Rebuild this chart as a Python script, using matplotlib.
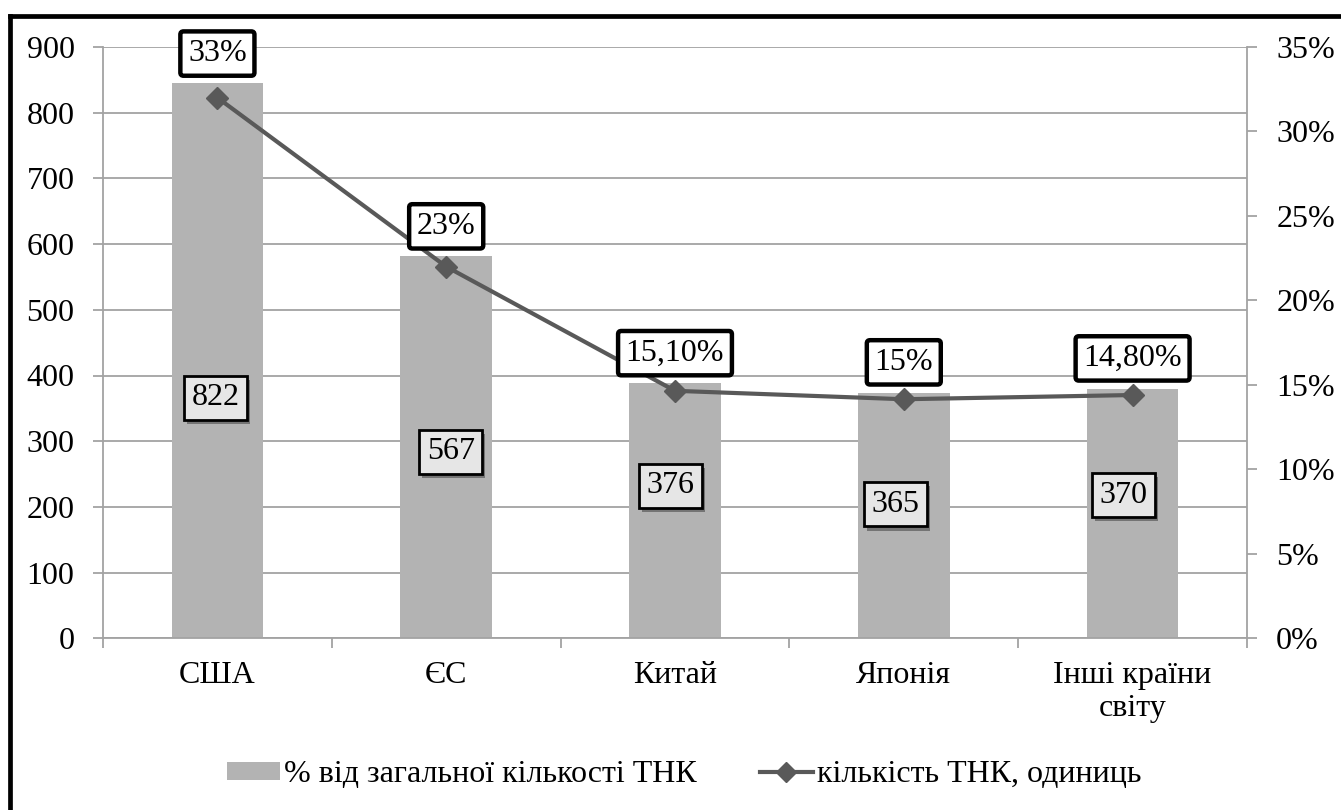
import matplotlib
matplotlib.use('Agg')
import matplotlib.pyplot as plt
import numpy as np
from matplotlib.lines import Line2D
from matplotlib.patches import Patch
import matplotlib.patheffects as pe
from matplotlib.font_manager import FontProperties

# ---- data ----
categories = ['США', 'ЄС', 'Китай', 'Японія', 'Інші країни\nсвіту']
bar_values = [845, 582, 389, 374, 380]          # bar heights on left axis
count_labels = ['822', '567', '376', '365', '370']
line_values = [32.0, 22.0, 14.65, 14.15, 14.4]  # line on right axis, %
pct_labels = ['33%', '23%', '15,10%', '15%', '14,80%']
left_ticks = [0, 100, 200, 300, 400, 500, 600, 700, 800, 900]
right_ticks = [0, 5, 10, 15, 20, 25, 30, 35]
right_tick_labels = ['0%', '5%', '10%', '15%', '20%', '25%', '30%', '35%']
legend_labels = ['% від загальної кількості ТНК', 'кількість ТНК, одиниць']

# label placement (left-axis units / category offsets)
pct_label_y = [890, 627, 434, 420, 426]
count_label_y = [366, 284, 232, 204, 218]
count_label_dx = [-0.008, 0.02, -0.02, -0.036, -0.04]

FAM = 'Liberation Serif'
plt.rcParams['font.family'] = 'serif'
plt.rcParams['font.serif'] = [FAM, 'DejaVu Serif']
FS = 23
GRID = '#a3a3a3'
BAR = '#b3b3b3'
LINE = '#595959'
W, H = 1341, 810

fig = plt.figure(figsize=(W / 100, H / 100), dpi=100)
ax = fig.add_axes([103 / W, 1 - 638.3 / H, (1247 - 103) / W, 591.3 / H])
x = np.arange(len(categories))

ax.bar(x, bar_values, width=0.4, color=BAR, zorder=2)
ax.set_xlim(-0.5, len(categories) - 0.5)
ax.set_ylim(0, 900)
ax.set_yticks(left_ticks)
ax.set_yticklabels([str(t) for t in left_ticks], fontsize=FS, fontfamily=FAM)
ax.grid(axis='y', color=GRID, lw=1.3, zorder=0)
ax.set_axisbelow(True)
ax.set_xticks(x)
ax.set_xticklabels(categories, fontsize=FS, fontfamily=FAM, linespacing=1.2)
ax.set_xticks(np.arange(-0.5, len(categories)), minor=True)
ax.tick_params(axis='x', which='major', length=0, pad=16)
ax.tick_params(axis='x', which='minor', length=7.5, color=GRID, width=1.3, direction='out')
ax.tick_params(axis='y', length=7.5, color=GRID, width=1.3, pad=13)
for s in ['top', 'right']:
    ax.spines[s].set_visible(False)
for s in ['left', 'bottom']:
    ax.spines[s].set_color(GRID)
    ax.spines[s].set_linewidth(1.3)

ax2 = ax.twinx()
ax2.plot(x, line_values, color=LINE, lw=3, marker='D', ms=11.5, zorder=3)
ax2.set_ylim(0, 35)
ax2.set_yticks(right_ticks)
ax2.set_yticklabels(right_tick_labels, fontsize=FS, fontfamily=FAM)
ax2.tick_params(axis='y', length=7.5, color=GRID, width=1.3, pad=13.5)
for s in ['top', 'left', 'bottom']:
    ax2.spines[s].set_visible(False)
ax2.spines['right'].set_color(GRID)
ax2.spines['right'].set_linewidth(1.3)

# percent labels (white boxes, thick black border)
for i, (lbl, yy) in enumerate(zip(pct_labels, pct_label_y)):
    ax2.text(i, yy, lbl, transform=ax.transData, ha='center', va='center',
             fontsize=FS, fontfamily=FAM, zorder=10,
             bbox=dict(boxstyle='round,pad=0.24,rounding_size=0.1', fc='white',
                       ec='black', lw=3.2))

# count labels (light gray boxes with shadow)
for i, (lbl, yy, dx) in enumerate(zip(count_labels, count_label_y, count_label_dx)):
    t = ax2.text(i + dx, yy, lbl, transform=ax.transData, ha='center', va='center',
                 fontsize=FS, fontfamily=FAM, zorder=10,
                 bbox=dict(boxstyle='square,pad=0.24', fc='#e6e6e6', ec='black', lw=2))
    t.get_bbox_patch().set_path_effects([
        pe.SimplePatchShadow(offset=(2, -3), shadow_rgbFace='black', alpha=0.35),
        pe.Normal()])

# legend
handles = [Patch(facecolor=BAR, edgecolor='none'),
           Line2D([0], [0], color=LINE, lw=3, marker='D', ms=10)]
fig.legend(handles, legend_labels, loc='center left',
           bbox_to_anchor=(227 / W, 1 - 775 / H),
           ncol=2, frameon=False, prop=FontProperties(family=FAM, size=FS),
           handlelength=1.65, handleheight=0.5, handletextpad=0.12,
           columnspacing=2.0, borderpad=0, borderaxespad=0)

# outer frame (left & top visible)
fig.add_artist(Line2D([10 / W, 10 / W], [0, 1 - 15.5 / H], color='black', lw=3.4,
                      transform=fig.transFigure, solid_capstyle='projecting'))
fig.add_artist(Line2D([10 / W, 1], [1 - 15.5 / H, 1 - 15.5 / H], color='black', lw=3.4,
                      transform=fig.transFigure, solid_capstyle='projecting'))

fig.savefig('out.png', dpi=100)
